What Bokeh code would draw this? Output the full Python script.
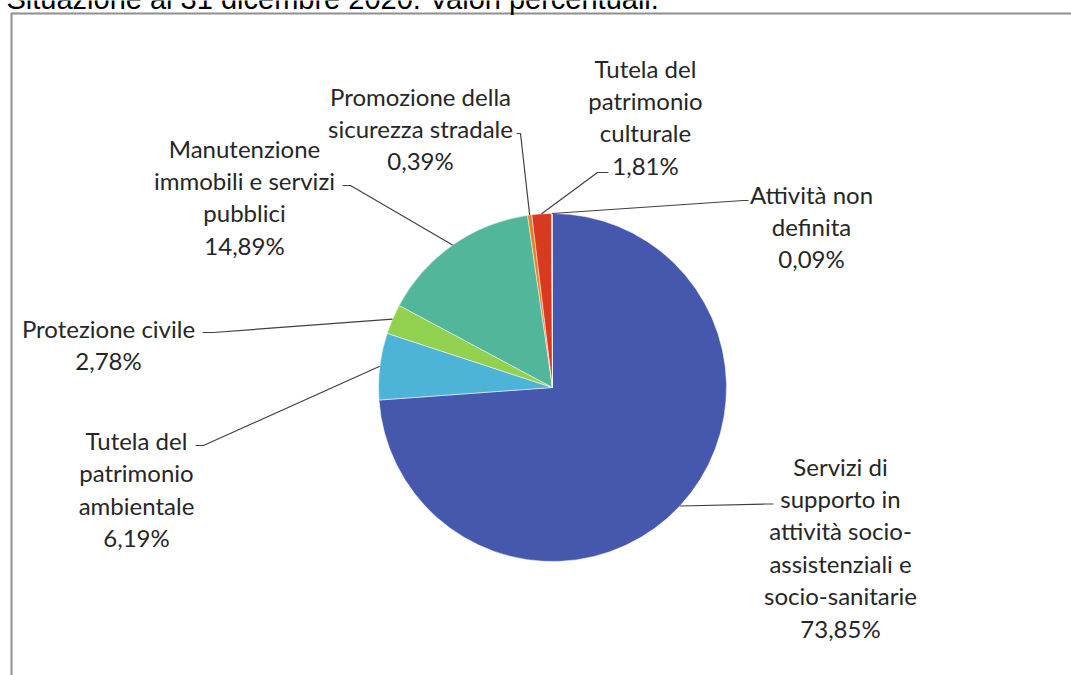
import math
from bokeh.plotting import figure
from bokeh.models import Range1d, ColumnDataSource
from bokeh.core.properties import value
from bokeh.embed import file_html
from bokeh.resources import INLINE

# ---------------- data ----------------
title_text = "Situazione al 31 dicembre 2020. Valori percentuali."
categories = [
    "Servizi di\nsupporto in\nattività socio-\nassistenziali e\nsocio-sanitarie",
    "Tutela del\npatrimonio\nambientale",
    "Protezione civile",
    "Manutenzione\nimmobili e servizi\npubblici",
    "Promozione della\nsicurezza stradale",
    "Tutela del\npatrimonio\nculturale",
    "Attività non\ndefinita",
]
values = [73.85, 6.19, 2.78, 14.89, 0.39, 1.81, 0.09]
colors = ["#4558AE", "#4DB4D7", "#92D050", "#52B69B", "#E8801F", "#D9391E", "#9A86C4"]

# ---------------- layout (page pixels) ----------------
W, H = 1071, 675
CX, CY, R = 552, 387, 174
label_pos = [(840, 465), (136, 439.5), (108, 327), (244, 147), (420, 95), (645, 67), (811, 193)]
leader_pts = [
    [(765, 503.5), (773, 503.5)],
    [(203, 445), (195, 445)],
    [(213, 332), (202, 332)],
    [(350, 185), (342, 185)],
    [(520, 133), (516, 133)],
    [(597, 172), (608, 172)],
    [(743, 200), (748, 200)],
]
LINE_H = 32.4
MID_ADJ = 0.5


def py(y):
    return H - y


p = figure(width=W, height=H, x_range=Range1d(0, W), y_range=Range1d(0, H),
           output_backend="svg", toolbar_location=None,
           x_axis_type=None, y_axis_type=None, min_border=0)
p.margin = (0, 0, 0, 0)
p.grid.visible = False
p.outline_line_color = None
p.background_fill_color = "white"
p.border_fill_color = "white"

# frame
p.line(x=[11, 11, W + 10], y=[py(H + 10), py(13), py(13)], line_width=2, line_color="#8F8F8F")

# title (partially cut, as in the reference)
p.text(x=[6], y=[py(-2)], text=[title_text], text_font=value("Liberation Sans"),
       text_font_size="29px", text_color="#000000", text_baseline="middle", text_align="left")

# wedges
total = sum(values)
starts, ends, mids = [], [], []
cum = 0.0
for v in values:
    a0 = math.pi / 2 - 2 * math.pi * cum / total
    a1 = math.pi / 2 - 2 * math.pi * (cum + v) / total
    starts.append(a0)
    ends.append(a1)
    mids.append(math.pi / 2 - 2 * math.pi * (cum + v / 2) / total)
    cum += v

src = ColumnDataSource(dict(start=starts, end=ends, color=colors))
p.wedge(x=CX, y=py(CY), radius=R, start_angle="start", end_angle="end", direction="clock",
        fill_color="color", line_color="white", line_width=0.5, source=src)

# leader lines
xs, ys = [], []
for m, pts in zip(mids, leader_pts):
    ex = CX + R * math.cos(m)
    ey = py(CY) + R * math.sin(m)
    xs.append([ex] + [q[0] for q in pts])
    ys.append([ey] + [py(q[1]) for q in pts])
p.multi_line(xs=xs, ys=ys, line_color="#404040", line_width=1.2)

# labels
tx, ty, tt = [], [], []
for cat, v, (lx, ly) in zip(categories, values, label_pos):
    lines = cat.split("\n") + [f"{v:.2f}".replace(".", ",") + "%"]
    for i, s in enumerate(lines):
        tx.append(lx)
        ty.append(py(ly + i * LINE_H + MID_ADJ))
        tt.append(s)
p.text(x=tx, y=ty, text=tt, text_font=value("Lato"), text_font_size="24px",
       text_color="#262626", text_align="center", text_baseline="middle")

open("out.html", "w").write(file_html(p, INLINE))
